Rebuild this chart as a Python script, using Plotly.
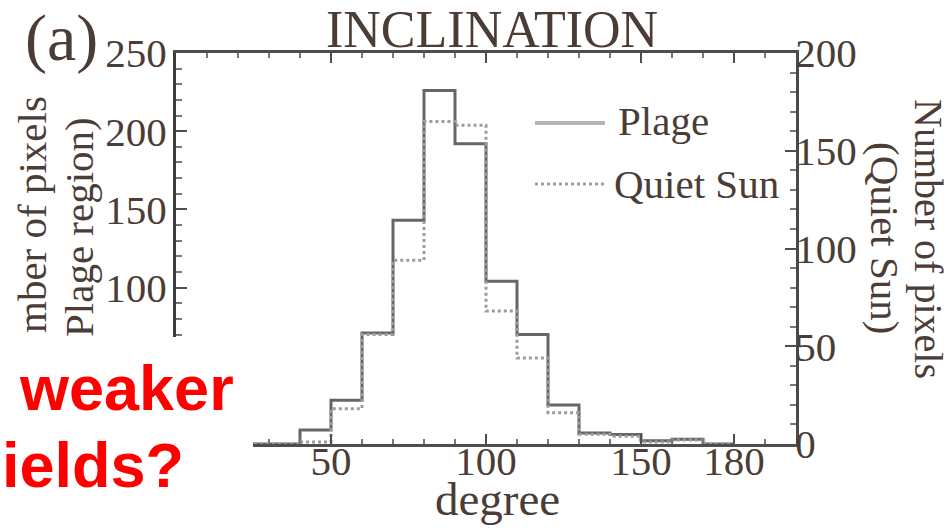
import plotly.graph_objects as go

# ---------------- data ----------------
bin_edges = list(range(0, 190, 10))            # 0..180 deg, 10-deg bins
plage_counts = [0, 0, 0, 0, 9, 28, 71, 143, 226, 192, 104, 70, 25, 7, 6, 2, 3, 0]
quiet_counts = [0, 0, 0, 0, 1, 18, 56, 94, 165, 163, 68, 44, 16, 5, 4, 1, 2, 0]
x_tick_vals = [50, 100, 150, 180]
x_tick_text = ["50", "100", "150", "180"]
left_tick_vals = [0, 50, 100, 150, 200, 250]
left_tick_text = ["", "", "100", "150", "200", "250"]   # lower labels hidden by slide overlay
right_tick_vals = [0, 50, 100, 150, 200]

# ---------------- layout geometry (pixels) ----------------
W, H = 951, 529
L, R, T, B = 176, 796, 53, 444


def px(x):
    return (x - L) / (R - L)


def py(y):
    return (B - y) / (B - T)


TXT = "#4b3d36"
SERIF = "Liberation Serif, Times New Roman, serif"
AX = "#4e4e4e"

plage_y = plage_counts + [plage_counts[-1]]
quiet_y = quiet_counts + [quiet_counts[-1]]

fig = go.Figure()
fig.add_trace(go.Scatter(x=bin_edges, y=quiet_y, mode="lines", yaxis="y2",
                         line=dict(shape="hv", color="#9c9c9c", width=3, dash="dot"),
                         showlegend=False, hoverinfo="skip"))
fig.add_trace(go.Scatter(x=bin_edges, y=plage_y, mode="lines", yaxis="y",
                         line=dict(shape="hv", color="#666666", width=3),
                         showlegend=False, hoverinfo="skip"))

tickfont = dict(family=SERIF, size=41, color=TXT)
minor_y = dict(tickmode="linear", tick0=0, dtick=10, ticks="inside", ticklen=6,
               tickcolor="#777", tickwidth=2)

fig.update_layout(
    width=W, height=H,
    margin=dict(l=L, r=W - R, t=T, b=H - B, pad=0),
    paper_bgcolor="white", plot_bgcolor="white",
    showlegend=False,
    xaxis=dict(range=[0, 200], showgrid=False, zeroline=False,
               showline=True, linecolor=AX, linewidth=3, mirror="ticks",
               tickmode="array", tickvals=x_tick_vals, ticktext=x_tick_text,
               ticks="inside", ticklen=10, tickwidth=2, tickcolor=AX,
               minor=dict(tickmode="linear", tick0=0, dtick=10, ticks="inside",
                          ticklen=5, tickcolor="#777", tickwidth=2),
               tickfont=tickfont, ticklabelstandoff=-21),
    yaxis=dict(range=[0, 250], showgrid=False, zeroline=False,
               showline=True, linecolor="#3c3c3c", linewidth=3,
               tickmode="array", tickvals=left_tick_vals, ticktext=left_tick_text,
               ticks="inside", ticklen=11, tickwidth=2, tickcolor=AX,
               minor=minor_y, tickfont=tickfont, ticklabelstandoff=-2),
    yaxis2=dict(range=[0, 200], overlaying="y", side="right", showgrid=False,
                zeroline=False, showline=True, linecolor="#4a4a4a", linewidth=3,
                tickmode="array", tickvals=right_tick_vals,
                ticks="inside", ticklen=11, tickwidth=2, tickcolor=AX,
                minor=minor_y, tickfont=tickfont, ticklabelstandoff=-12),
)

# white cover over lower-left corner (slide overlay)
fig.add_shape(type="rect", xref="paper", yref="paper",
              x0=px(-5), x1=px(253), y0=py(H + 5), y1=py(337),
              fillcolor="white", line=dict(width=0), layer="above")

# legend (drawn manually)
fig.add_shape(type="line", xref="paper", yref="paper",
              x0=px(535), x1=px(605), y0=py(123), y1=py(123),
              line=dict(color="#b4b4b4", width=4), layer="above")
fig.add_shape(type="line", xref="paper", yref="paper",
              x0=px(535), x1=px(605), y0=py(184), y1=py(184),
              line=dict(color="#a0a0a0", width=3, dash="dot"), layer="above")


def ann(text, x, y, size, xanchor="center", yanchor="middle", angle=0,
        color=TXT, family=SERIF, bold=False):
    font = dict(family=family, size=size, color=color)
    if bold:
        font["weight"] = "bold"
    fig.add_annotation(text=text, x=px(x), y=py(y), xref="paper", yref="paper",
                       xanchor=xanchor, yanchor=yanchor, textangle=angle,
                       showarrow=False, font=font)


ann("Plage", 616, 121, 41, xanchor="left")
ann("Quiet Sun", 612, 184, 41, xanchor="left")
ann("INCLINATION", 492, 29, 52)
ann("(a)", 61, 38, 66)
ann("degree", 497, 499, 47)
ann("mber of pixels", 32, 215, 41, angle=-90)
ann("Plage region)", 79, 227, 41, angle=-90)
ann("(Quiet Sun)", 885, 238, 41, angle=90)
ann("Number of pixels", 929, 239, 40, angle=90)
ann("weaker", 17, 388, 63, xanchor="left", color="#ff0000",
    family="Liberation Sans, Arial, sans-serif", bold=True)
ann("ields?", 0, 465, 63, xanchor="left", color="#ff0000",
    family="Liberation Sans, Arial, sans-serif", bold=True)

fig.write_html("out.html")
